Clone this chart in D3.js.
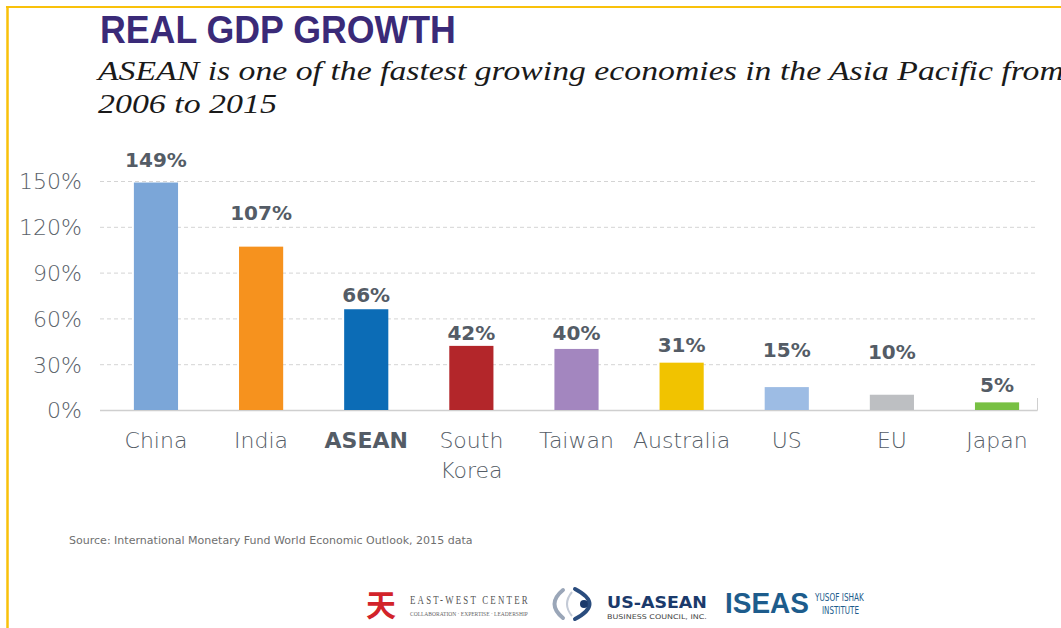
<!DOCTYPE html>
<html>
<head>
<meta charset="utf-8">
<script src="https://cdn.jsdelivr.net/npm/d3@7"></script>
<style>
  html, body { margin: 0; padding: 0; background: #fff; }
  svg { display: block; }
</style>
</head>
<body>
<svg id="chart" width="1061" height="628"></svg>
<script>
// ---- data ----
const categories = ["China", "India", "ASEAN", "South Korea", "Taiwan", "Australia", "US", "EU", "Japan"];
const growth = [149, 107, 66, 42, 40, 31, 15, 10, 5];
const valueLabels = ["149%", "107%", "66%", "42%", "40%", "31%", "15%", "10%", "5%"];
const yTicks = [0, 30, 60, 90, 120, 150];
const yTickLabels = ["0%", "30%", "60%", "90%", "120%", "150%"];
const barColors = ["#7ba6d8", "#f6921e", "#0c6cb6", "#b3262a", "#a386bf", "#f1c300", "#9dbce4", "#bdbfc2", "#78c043"];
// level (in % units) at which each value label sits in the reference
const labelLevel = [163.8, 129, 75.3, 50.4, 50.4, 42.9, 39.3, 38.3, 16.7];

const title = "REAL GDP GROWTH";
const subtitle1 = "ASEAN is one of the fastest growing economies in the Asia Pacific from";
const subtitle2 = "2006 to 2015";
const source = "Source: International Monetary Fund World Economic Outlook, 2015 data";

// ---- drawing ----
const svg = d3.select("#chart");

function fitText(sel, target) {
  const len = sel.node().getComputedTextLength();
  const k = target / len;
  const x = +sel.attr("x"), y = +sel.attr("y");
  sel.attr("transform", `translate(${x},${y}) scale(${k},1) translate(${-x},${-y})`);
}

// yellow frame
svg.append("line").attr("x1", 7.5).attr("x2", 7.5).attr("y1", 6).attr("y2", 628)
  .attr("stroke", "#f9c10a").attr("stroke-width", 2.5);
svg.append("line").attr("x1", 6).attr("x2", 1061).attr("y1", 7).attr("y2", 7)
  .attr("stroke", "#f9c10a").attr("stroke-width", 2);

// title (condensed look via horizontal scale)
const t = svg.append("text").attr("x", 100).attr("y", 43)
  .attr("font-family", "'Liberation Sans', Arial, sans-serif")
  .attr("font-weight", "bold").attr("font-size", 38)
  .attr("fill", "#3a2a78").text(title);
fitText(t, 356);

// subtitle
const s1 = svg.append("text").attr("x", 98).attr("y", 80)
  .attr("font-family", "'Liberation Serif', 'DejaVu Serif', serif")
  .attr("font-style", "italic").attr("font-size", 28)
  .attr("fill", "#1a1a1a").text(subtitle1);
fitText(s1, 966);
const s2 = svg.append("text").attr("x", 98).attr("y", 113)
  .attr("font-family", "'Liberation Serif', 'DejaVu Serif', serif")
  .attr("font-style", "italic").attr("font-size", 28)
  .attr("fill", "#1a1a1a").text(subtitle2);
fitText(s2, 179);

// scales
const x = d3.scaleBand().domain(categories).range([103.4, 1049.6])
  .paddingInner(0.58).paddingOuter(0.29);
const y = d3.scaleLinear().domain([0, 150]).range([410, 181]);

// gridlines
svg.append("g").selectAll("line").data(yTicks.filter(d => d > 0)).join("line")
  .attr("x1", 100).attr("x2", 1035)
  .attr("y1", d => y(d) + 0.5).attr("y2", d => y(d) + 0.5)
  .attr("stroke", "#d4d4d4").attr("stroke-width", 1).attr("stroke-dasharray", "4,3");

// baseline
svg.append("line").attr("x1", 100).attr("x2", 1037.5).attr("y1", y(0) + 0.5).attr("y2", y(0) + 0.5)
  .attr("stroke", "#cfcfcf").attr("stroke-width", 1.5);
svg.append("line").attr("x1", 1037.5).attr("x2", 1037.5).attr("y1", y(0) - 12).attr("y2", y(0) + 0.5)
  .attr("stroke", "#cfcfcf").attr("stroke-width", 1);

// y axis labels
const yAxis = d3.axisLeft(y).tickValues(yTicks).tickFormat((d, i) => yTickLabels[i]).tickSize(0).tickPadding(0);
const gy = svg.append("g").attr("transform", "translate(82,0)").call(yAxis);
gy.select(".domain").remove();
gy.selectAll("text")
  .attr("font-family", "'DejaVu Sans', sans-serif").attr("font-weight", 200)
  .attr("font-size", 22).attr("fill", "#596169").attr("dy", "0.36em");

// bars
svg.append("g").selectAll("rect").data(categories).join("rect")
  .attr("x", d => x(d)).attr("width", x.bandwidth())
  .attr("y", (d, i) => y(growth[i])).attr("height", (d, i) => y(0) - y(growth[i]))
  .attr("fill", (d, i) => barColors[i]);

// value labels
svg.append("g").selectAll("text").data(categories).join("text")
  .attr("x", d => x(d) + x.bandwidth() / 2)
  .attr("y", (d, i) => y(labelLevel[i]))
  .attr("dy", "0.36em")
  .attr("text-anchor", "middle")
  .attr("font-family", "'DejaVu Sans', sans-serif").attr("font-weight", "bold")
  .attr("font-size", 20).attr("fill", "#545c66")
  .text((d, i) => valueLabels[i]);

// category labels
const cat = svg.append("g").selectAll("text").data(categories).join("text")
  .attr("x", d => x(d) + x.bandwidth() / 2)
  .attr("y", 448)
  .attr("text-anchor", "middle")
  .attr("font-family", "'DejaVu Sans', sans-serif")
  .attr("font-weight", d => d === "ASEAN" ? "bold" : 200)
  .attr("font-size", 22).attr("fill", "#545c66");
cat.each(function(d) {
  const el = d3.select(this);
  const parts = d === "South Korea" ? ["South", "Korea"] : [d];
  parts.forEach((p, j) => {
    el.append("tspan").attr("x", x(d) + x.bandwidth() / 2).attr("dy", j === 0 ? 0 : 30).text(p);
  });
});

// source
svg.append("text").attr("x", 69).attr("y", 544)
  .attr("font-family", "'DejaVu Sans', sans-serif").attr("font-size", 10.5)
  .attr("fill", "#6f6f6f").text(source)
  .each(function() { fitText(d3.select(this), 404); });

// ---- logos (approximations) ----
const logos = svg.append("g");
// East-West Center
logos.append("text").attr("x", 381).attr("y", 616).attr("text-anchor", "middle")
  .attr("font-family", "'Noto Sans CJK SC', sans-serif").attr("font-weight", "bold")
  .attr("font-size", 30).attr("fill", "#d2232a").text("天");
const ew1 = logos.append("text").attr("x", 410).attr("y", 604)
  .attr("font-family", "'Liberation Serif', serif").attr("font-size", 12)
  .attr("letter-spacing", 3).attr("fill", "#555").text("EAST-WEST CENTER");
fitText(ew1, 120);
const ew2 = logos.append("text").attr("x", 410).attr("y", 616)
  .attr("font-family", "'Liberation Serif', serif").attr("font-size", 5.5)
  .attr("fill", "#666").text("COLLABORATION · EXPERTISE · LEADERSHIP");
fitText(ew2, 118);

// US-ASEAN mark: "(" ")" with a dot
logos.append("path").attr("d", "M563,590 Q546,604 563,618").attr("fill", "none")
  .attr("stroke", "#9aa6b8").attr("stroke-width", 4).attr("stroke-linecap", "round");
logos.append("path").attr("d", "M575,589 Q604,604 575,619").attr("fill", "none")
  .attr("stroke", "#2a4c7d").attr("stroke-width", 4).attr("stroke-linecap", "round");
logos.append("path").attr("d", "M572,592 Q562,604 572,616").attr("fill", "none")
  .attr("stroke", "#c3cad6").attr("stroke-width", 2);
logos.append("circle").attr("cx", 584).attr("cy", 604).attr("r", 4).attr("fill", "#1b3a6b");
const ua1 = logos.append("text").attr("x", 607).attr("y", 608)
  .attr("font-family", "'DejaVu Sans', sans-serif").attr("font-weight", "bold")
  .attr("font-size", 15).attr("fill", "#1b3a6b").text("US-ASEAN");
fitText(ua1, 100);
const ua2 = logos.append("text").attr("x", 607).attr("y", 619)
  .attr("font-family", "'DejaVu Sans', sans-serif").attr("font-size", 6.5)
  .attr("fill", "#444").text("BUSINESS COUNCIL, INC.");
fitText(ua2, 100);

// ISEAS
const is1 = logos.append("text").attr("x", 725).attr("y", 613)
  .attr("font-family", "'Liberation Sans', sans-serif").attr("font-weight", "bold")
  .attr("font-size", 29).attr("fill", "#1d5c8c").text("ISEAS");
fitText(is1, 84);
const is2 = logos.append("text").attr("x", 815).attr("y", 601)
  .attr("font-family", "'DejaVu Sans', sans-serif").attr("font-size", 11)
  .attr("fill", "#1d5c8c").text("YUSOF ISHAK");
fitText(is2, 49);
const is3 = logos.append("text").attr("x", 822).attr("y", 614)
  .attr("font-family", "'DejaVu Sans', sans-serif").attr("font-size", 11)
  .attr("fill", "#1d5c8c").text("INSTITUTE");
fitText(is3, 37);
</script>
</body>
</html>
